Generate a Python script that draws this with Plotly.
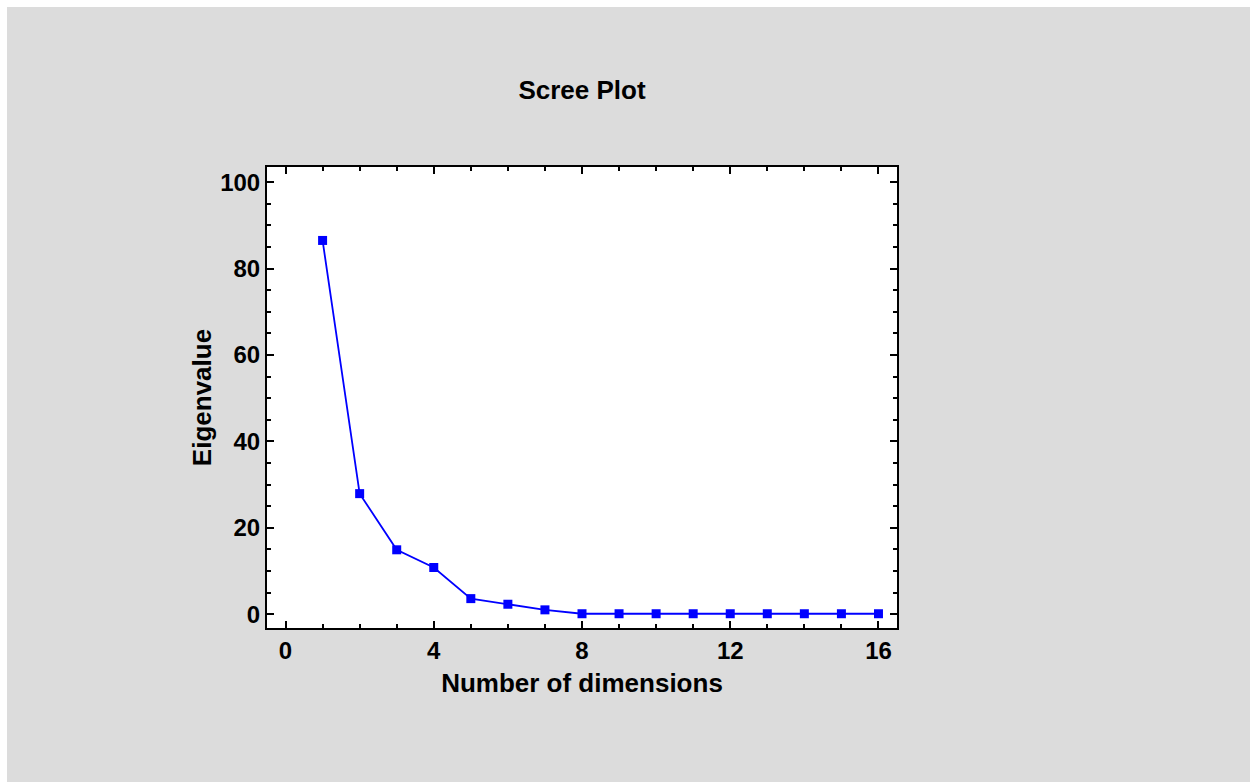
import plotly.graph_objects as go

dimensions = list(range(1, 17))
eigenvalues = [86.5, 27.9, 14.9, 10.8, 3.6, 2.3, 1.0, 0.1, 0.1, 0.1, 0.1, 0.1, 0.1, 0.1, 0.1, 0.1]

W, H = 1250, 782
L, R, T, B = 267, 353, 167, 154
pw, ph = W - L - R, H - T - B

def px_x(px):
    return (px - L) / pw

def px_y(py):
    return (H - B - py) / ph

fig = go.Figure()
fig.add_trace(go.Scatter(
    x=dimensions, y=eigenvalues, mode="lines+markers",
    line=dict(color="#0000ff", width=1.8),
    marker=dict(symbol="square", size=9, color="#0000ff"),
    showlegend=False, cliponaxis=False,
))

fam = "Liberation Sans, Arial, sans-serif"
bold = dict(family=fam, color="black", weight="bold")
axis_common = dict(
    showline=True, linecolor="black", linewidth=2, mirror="allticks",
    ticks="inside", ticklen=7, tickwidth=2, tickcolor="black",
    showgrid=False, zeroline=False,
    tickfont=dict(size=24, **bold),
)
fig.update_xaxes(range=[-0.5, 16.5], tickvals=[0, 4, 8, 12, 16],
                 minor=dict(dtick=1, ticks="inside", ticklen=4, tickwidth=2, tickcolor="black"),
                 title=dict(text="Number of dimensions", font=dict(size=26, **bold), standoff=11),
                 **axis_common)
fig.update_yaxes(range=[-3.2, 103.5], tickvals=[0, 20, 40, 60, 80, 100],
                 minor=dict(dtick=5, ticks="inside", ticklen=4, tickwidth=2, tickcolor="black"),
                 title=dict(text="Eigenvalue", font=dict(size=26, **bold), standoff=1),
                 **axis_common)

fig.update_layout(
    width=W, height=H,
    margin=dict(l=L, r=R, t=T, b=B, pad=0),
    paper_bgcolor="#dcdcdc", plot_bgcolor="white",
    title=dict(text="Scree Plot", x=px_x(582), xref="paper", xanchor="center",
               y=1 - 90 / H, yanchor="middle", font=dict(size=26, **bold)),
    shapes=[
        dict(type="rect", xref="paper", yref="paper", x0=px_x(0), x1=px_x(W), y0=px_y(7), y1=px_y(0),
             fillcolor="white", line=dict(width=0), layer="below"),
        dict(type="rect", xref="paper", yref="paper", x0=px_x(0), x1=px_x(7), y0=px_y(H), y1=px_y(0),
             fillcolor="white", line=dict(width=0), layer="below"),
    ],
)

fig.write_html("out.html")
